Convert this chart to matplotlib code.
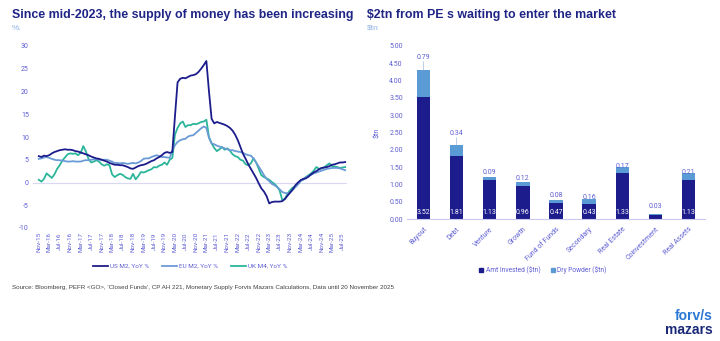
import matplotlib
matplotlib.use("Agg")
import matplotlib.pyplot as plt
from matplotlib.lines import Line2D
from matplotlib.patches import Patch

plt.rcParams["axes.unicode_minus"] = False

# ---------------- data ----------------
month_labels = ["Nov-15", "Mar-16", "Jul-16", "Nov-16", "Mar-17", "Jul-17", "Nov-17", "Mar-18",
                "Jul-18", "Nov-18", "Mar-19", "Jul-19", "Nov-19", "Mar-20", "Jul-20", "Nov-20",
                "Mar-21", "Jul-21", "Nov-21", "Mar-22", "Jul-22", "Nov-22", "Mar-23", "Jul-23",
                "Nov-23", "Mar-24", "Jul-24", "Nov-24", "Mar-25", "Jul-25"]

us_m2 = [5.8, 5.6, 5.9, 5.8, 6.0, 6.4, 6.7, 6.9, 7.1, 7.2, 7.3, 7.2, 7.2, 7.1, 6.9, 6.8,
         6.6, 6.4, 6.2, 6.0, 5.7, 5.5, 5.3, 5.2, 5.0, 4.8, 4.6, 4.3, 4.1, 3.9, 3.9, 3.8,
         3.8, 3.6, 3.4, 3.1, 3.0, 3.3, 3.6, 3.8, 3.9, 4.1, 4.4, 4.7, 4.9, 5.3, 5.6, 6.0,
         6.5, 6.7, 6.5, 6.7, 14.5, 22.0, 22.8, 23.0, 22.9, 23.2, 23.5, 23.6, 23.8, 24.3,
         25.0, 25.8, 26.7, 20.0, 14.0, 13.0, 13.3, 13.1, 12.9, 12.7, 12.4, 12.0, 11.4, 10.5,
         9.3, 7.8, 6.3, 5.2, 4.0, 3.0, 2.0, 1.0, -0.2, -1.3, -2.0, -3.0, -4.6, -4.3, -4.2,
         -4.2, -4.2, -4.1, -3.6, -2.9, -2.2, -1.5, -0.6, 0.0, 0.5, 0.8, 0.9, 1.3, 1.8, 2.2,
         2.5, 2.9, 3.2, 3.3, 3.4, 3.6, 3.9, 4.0, 4.2, 4.4, 4.4, 4.5]

eu_m2 = [5.2, 5.3, 5.5, 5.6, 5.4, 5.2, 5.0, 4.9, 4.9, 4.8, 4.7, 4.6, 4.6, 4.7, 4.6, 4.6,
         4.6, 4.8, 4.9, 4.9, 5.0, 5.1, 5.1, 5.0, 5.0, 5.0, 5.0, 4.8, 4.6, 4.3, 4.3, 4.2,
         4.3, 4.2, 4.1, 4.2, 4.3, 4.2, 4.4, 4.7, 5.2, 5.3, 5.3, 5.6, 5.8, 6.0, 5.8, 5.6,
         5.6, 5.5, 5.4, 7.0, 8.2, 8.9, 9.3, 9.5, 9.6, 10.1, 10.3, 10.4, 10.9, 11.4, 11.9,
         12.3, 12.0, 9.8, 8.6, 8.4, 8.1, 7.9, 7.7, 7.5, 7.3, 7.1, 7.1, 6.9, 6.8, 6.7, 6.5,
         6.2, 6.0, 5.9, 5.3, 4.4, 3.5, 2.6, 1.6, 0.8, 0.3, -0.3, -0.6, -1.0, -1.5, -2.1,
         -2.3, -2.4, -2.2, -1.6, -1.0, -0.4, 0.3, 0.7, 1.1, 1.4, 1.7, 2.0, 2.2, 2.4, 2.6,
         2.8, 3.0, 3.1, 3.2, 3.2, 3.2, 3.1, 2.9, 2.7]

uk_m4 = [0.6, 0.2, 0.8, 2.0, 1.5, 1.0, 1.8, 3.0, 3.8, 4.8, 5.5, 6.2, 6.4, 6.3, 6.4, 6.0,
         6.5, 8.0, 6.8, 5.2, 4.4, 4.6, 4.9, 4.6, 4.0, 3.7, 4.0, 3.8, 1.8, 1.2, 1.6, 1.9,
         1.7, 1.2, 0.9, 0.8, 1.9, 0.7, 1.4, 2.3, 2.2, 2.4, 2.7, 2.9, 3.4, 3.3, 3.7, 3.9,
         4.4, 3.9, 5.0, 5.4, 10.5, 12.0, 13.0, 13.4, 12.2, 12.6, 12.6, 12.9, 12.8, 13.0,
         13.3, 13.4, 13.8, 10.0, 8.6, 7.6, 6.9, 7.3, 7.8, 7.2, 7.5, 7.0, 6.2, 5.8, 5.6, 5.0,
         4.8, 4.0, 3.8, 4.2, 5.3, 4.4, 3.0, 1.6, 1.2, 0.9, 0.6, 0.1, -0.3, -0.9, -1.8, -3.9,
         -3.6, -2.4, -1.7, -1.1, -1.0, -0.3, 0.5, 0.6, 1.2, 1.6, 2.0, 2.6, 3.4, 3.0, 3.1,
         3.3, 3.8, 4.2, 3.6, 3.5, 3.4, 3.2, 3.3, 3.4]

pe_categories = ["Buyout", "Debt", "Venture", "Growth", "Fund of Funds", "Secondary",
                 "Real Estate", "Coinvestment", "Real Assets"]
amt_invested = [3.52, 1.81, 1.13, 0.96, 0.47, 0.43, 1.33, 0.12, 1.13]
dry_powder = [0.79, 0.34, 0.09, 0.12, 0.08, 0.16, 0.17, 0.03, 0.21]

# ---------------- style ----------------
NAVY = "#1c1c8c"
LIGHTBLUE = "#6b9bd6"
TEAL = "#2bb59a"
BAR_LIGHT = "#5b9bd5"
TICK = "#5e5ed4"
TITLE = "#1f2585"
SUB = "#8fb2e6"
ZERO = "#d8d8f0"
TFONT = ["Liberation Sans", "DejaVu Sans"]
LFONT = ["Roboto", "DejaVu Sans"]

fig = plt.figure(figsize=(7.2, 3.41), dpi=100)
fig.patch.set_facecolor("white")

# ---------------- left chart ----------------
ax1 = fig.add_axes([33 / 720, 1 - 228 / 341, 314 / 720, 182 / 341])
x = list(range(len(us_m2)))
ax1.axhline(0, color=ZERO, lw=0.8, zorder=1)
ax1.plot(x, uk_m4, color=TEAL, lw=1.3, zorder=2)
ax1.plot(x, eu_m2, color=LIGHTBLUE, lw=1.3, zorder=3)
ax1.plot(x, us_m2, color=NAVY, lw=1.3, zorder=4)
ax1.set_ylim(-10, 30)
ax1.set_xlim(-2.2, len(us_m2) - 0.3)
ax1.set_yticks(range(-10, 31, 5))
ax1.set_xticks(range(0, 4 * len(month_labels), 4))
ax1.set_xticklabels(month_labels, rotation=90, fontsize=4.6, color=TICK, family=LFONT)
for lab in ax1.get_yticklabels():
    lab.set_fontsize(5)
    lab.set_color(TICK)
    lab.set_family(LFONT)
ax1.tick_params(length=0, pad=3)
for s in ax1.spines.values():
    s.set_visible(False)

h_us = Line2D([], [], color=NAVY, lw=1.3)
h_eu = Line2D([], [], color=LIGHTBLUE, lw=1.3)
h_uk = Line2D([], [], color=TEAL, lw=1.3)
leg1 = fig.legend([h_us, h_eu, h_uk], ["US M2, YoY %", "EU M2, YoY %", "UK M4, YoY %"],
                  loc="center", bbox_to_anchor=(190 / 720, 1 - 266 / 341), ncol=3,
                  frameon=False, handlelength=2.4, handletextpad=0.25,
                  columnspacing=2.0, prop={"family": LFONT, "size": 4.6})
for t in leg1.get_texts():
    t.set_color(TICK)

fig.text(12 / 720, 1 - 15 / 341, "Since mid-2023, the supply of money has been increasing",
         fontsize=8.9, fontweight="bold", color=TITLE, family=TFONT, va="center", ha="left")
fig.text(12 / 720, 1 - 28 / 341, "%.", fontsize=6, color=SUB, family=TFONT,
         va="center", ha="left")

# ---------------- right chart ----------------
ax2 = fig.add_axes([407 / 720, 1 - 219 / 341, 298 / 720, 173 / 341])
xi = list(range(len(pe_categories)))
totals = [a + d for a, d in zip(amt_invested, dry_powder)]
ax2.bar(xi, amt_invested, width=0.4, color=NAVY, zorder=2)
ax2.bar(xi, dry_powder, width=0.4, bottom=amt_invested, color=BAR_LIGHT, zorder=2)
ax2.set_ylim(0, 5)
ax2.set_xlim(-0.5, len(pe_categories) - 0.5)
ax2.set_yticks([i * 0.5 for i in range(11)])
ax2.set_yticklabels([f"{i * 0.5:.2f}" for i in range(11)], fontsize=5, color=TICK,
                    family=LFONT)
ax2.set_xticks(xi)
ax2.set_xticklabels(pe_categories, rotation=45, ha="right", rotation_mode="anchor",
                    fontsize=5, color=TICK, family=LFONT)
ax2.tick_params(length=0, pad=3)
ax2.tick_params(axis="x", pad=5)
for k, s in ax2.spines.items():
    s.set_visible(k == "bottom")
ax2.spines["bottom"].set_color("#c9c9ee")
ax2.spines["bottom"].set_linewidth(0.8)
ax2.set_ylabel("$tn", fontsize=5, color=TICK, family=LFONT, labelpad=6)

# labels inside dark bars
for i, v in enumerate(amt_invested):
    if v >= 0.2:
        ax2.annotate(f"{v:.2f}", (i, 0), xytext=(0, 5), textcoords="offset points",
                     ha="center", va="center", fontsize=5, color="white", family=LFONT)

# labels for dry powder (pixel offsets above bar top)
label_offsets_px = [12, 11, 4, 3.5, 4, 1.5, 1, 7, 0]
for i, (d, t, off) in enumerate(zip(dry_powder, totals, label_offsets_px)):
    ax2.annotate(f"{d:.2f}", (i, t), xytext=(0, off * 0.72), textcoords="offset points",
                 ha="center", va="center", fontsize=5, color=TICK, family=LFONT, zorder=4)
    if off > 10:
        ax2.annotate("", (i, t), xytext=(0, (off - 4) * 0.72), textcoords="offset points",
                     arrowprops=dict(arrowstyle="-", color="#9fb8e0", lw=0.5,
                                     shrinkA=0, shrinkB=0))

bh = Patch(color=NAVY)
lh = Patch(color=BAR_LIGHT)
leg2 = fig.legend([bh, lh], ["Amt Invested ($tn)", "Dry Powder ($tn)"], loc="center",
                  bbox_to_anchor=(543 / 720, 1 - 270 / 341), ncol=2, frameon=False,
                  handlelength=0.6, handleheight=0.6, handletextpad=0.4, columnspacing=1.5,
                  prop={"family": LFONT, "size": 4.8})
for t in leg2.get_texts():
    t.set_color(TICK)

fig.text(367 / 720, 1 - 15 / 341, "$2tn from PE s waiting to enter the market",
         fontsize=8.9, fontweight="bold", color=TITLE, family=TFONT, va="center", ha="left")
fig.text(367 / 720, 1 - 28 / 341, "$tn", fontsize=6, color=SUB, family=TFONT,
         va="center", ha="left")

# ---------------- footer ----------------
fig.text(12 / 720, 1 - 287 / 341,
         "Source: Bloomberg, PEFR <GO>, 'Closed Funds', CP AH 221, Monetary Supply Forvis "
         "Mazars Calculations, Data until 20 November 2025",
         fontsize=4.5, color="#404040", family=TFONT, va="center", ha="left")
fig.text(713 / 720, 1 - 316 / 341, "forv/s", fontsize=10, fontweight="bold",
         color="#2a78d4", family=TFONT, va="center", ha="right")
fig.text(713 / 720, 1 - 330 / 341, "mazars", fontsize=10, fontweight="bold",
         color="#1b2a78", family=TFONT, va="center", ha="right")

fig.savefig("out.png", dpi=100, facecolor="white")
